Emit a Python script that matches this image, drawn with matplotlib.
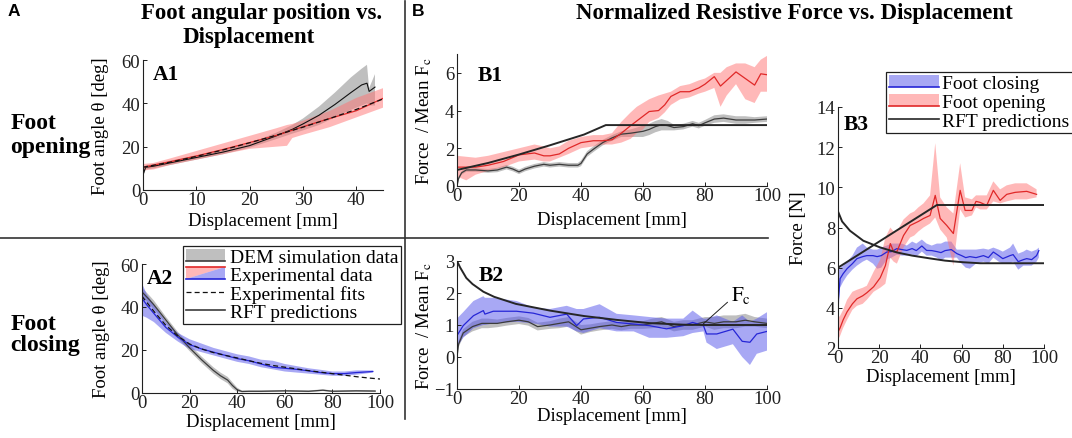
import numpy as np
import matplotlib
matplotlib.use('Agg')
import matplotlib.pyplot as plt
from matplotlib.patches import Rectangle, Polygon
from matplotlib.lines import Line2D
from matplotlib.legend_handler import HandlerBase

plt.rcParams['font.family'] = ['Liberation Serif', 'DejaVu Serif']
plt.rcParams['mathtext.fontset'] = 'stix'

# ---------------- DATA ----------------
# A1: foot opening angle
a1_exp_x = [0, 2, 5, 10, 15, 20, 25, 27, 28, 30, 35, 40, 45]
a1_exp_mean = [10.5, 11.5, 13.0, 15.7, 18.7, 21.9, 25.2, 26.8, 27.6, 29.2, 33.0, 36.6, 42.3]
a1_exp_lo = [9.0, 9.5, 11.5, 14.0, 16.5, 19.0, 20.0, 20.4, 24.0, 25.5, 29.0, 33.5, 38.0]
a1_exp_hi = [12.0, 12.5, 14.5, 18.0, 21.5, 25.0, 28.5, 30.0, 30.5, 32.0, 36.5, 42.5, 47.0]
a1_fit_x = [0, 5, 10, 15, 20, 25, 30, 35, 40, 45]
a1_fit_y = [10.5, 12.8, 15.5, 18.5, 21.8, 25.3, 29.0, 33.0, 37.2, 42.0]
a1_dem_x = [0, 0.5, 2, 5, 10, 15, 20, 25, 28, 30, 33, 36, 39, 41, 42, 42.4, 43.5]
a1_dem_mean = [7, 10.5, 11, 12.5, 15, 17.5, 20.5, 25, 28, 30.5, 34.5, 39.5, 45, 48.5, 49.3, 45.5, 47.5]
a1_dem_lo = [6, 9.5, 10, 11.5, 14, 16.5, 19.5, 23.5, 26, 27.5, 30, 33.5, 37, 39, 40, 39, 39]
a1_dem_hi = [8, 11.5, 12, 13.5, 16, 18.5, 21.5, 26.5, 30, 33, 38.5, 45, 52, 56, 57.8, 47, 53.5]

# A2: foot closing angle
a2_exp_x = [0, 2, 5, 10, 15, 20, 25, 30, 35, 40, 45, 50, 55, 60, 65, 70, 75, 80, 85, 90, 97]
a2_exp_mean = [44, 41, 37, 30.5, 26, 22.5, 20.5, 19, 17.5, 16, 15, 13.5, 12, 11.5, 11, 10.3, 9.5, 9, 9, 9.5, 10]
a2_exp_lo = [36, 35, 33, 28, 24, 20.5, 19, 17.5, 16, 14.5, 13.5, 12, 11, 10, 9.5, 9, 8.5, 8, 8, 8.5, 9.5]
a2_exp_hi = [51, 46, 41, 33, 28, 25, 23, 21, 19.5, 18, 17, 15.5, 15, 13.5, 12.5, 11.5, 10.8, 10, 10, 10.5, 10.5]
a2_fit_x = [0, 5, 10, 15, 20, 25, 30, 35, 40, 45, 50, 55, 60, 65, 70, 75, 80, 85, 90, 95, 100]
a2_fit_y = [45, 38, 31.5, 26.5, 22.8, 20.5, 18.8, 17.5, 16.3, 15, 13.8, 12.8, 12, 11.2, 10.4, 9.7, 9, 8.3, 7.6, 7, 6.5]
a2_dem_x = [0, 3, 5, 10, 15, 20, 25, 30, 33, 36, 38, 40, 42, 45, 50, 60, 70, 76, 80, 90, 98]
a2_dem_mean = [47, 43.5, 41, 34, 27, 21, 15.5, 10.5, 8, 6, 3.5, 1.5, 0.7, 0.8, 0.8, 1.0, 0.8, 1.3, 0.8, 1.0, 0.9]
a2_dem_lo = [45, 41.5, 39, 32.5, 25.5, 19.5, 14, 9, 6.5, 4.5, 2, 0.5, 0.3, 0.4, 0.4, 0.6, 0.4, 0.9, 0.4, 0.6, 0.5]
a2_dem_hi = [49, 45.5, 43, 35.5, 28.5, 22.5, 17, 12, 9.5, 7.5, 5, 2.5, 1.1, 1.2, 1.2, 1.4, 1.2, 1.7, 1.2, 1.4, 1.3]

# B1: normalized force, foot opening
b1_exp_x = [0, 3, 6, 10, 15, 20, 25, 28, 30, 33, 36, 40, 44, 47, 50, 53, 56, 58, 60, 62, 65, 67, 69, 72,
            75, 78, 80, 83, 85, 87, 90, 93, 96, 98, 100]
b1_exp_mean = [1.0, 1.0, 1.0, 1.1, 1.3, 1.65, 1.75, 1.6, 1.6, 1.7, 2.0, 2.3, 2.4, 2.4, 2.45, 2.8, 3.2, 3.45,
               3.7, 3.95, 4.0, 4.3, 4.75, 5.0, 5.0, 5.2, 5.4, 5.8, 5.3, 5.6, 6.05, 5.7, 5.35, 5.95, 5.9]
b1_exp_lo = [0.5, 0.3, 0.6, 0.8, 1.0, 1.3, 1.4, 1.3, 1.3, 1.5, 1.7, 2.0, 2.1, 2.2, 2.2, 2.3, 2.5, 2.8,
             3.0, 3.4, 3.6, 3.9, 4.3, 4.6, 4.7, 4.9, 5.0, 5.2, 4.2, 4.8, 5.4, 4.6, 4.4, 5.0, 5.0]
b1_exp_hi = [1.6, 1.55, 1.5, 1.6, 1.8, 2.0, 2.2, 2.1, 2.0, 2.1, 2.4, 2.6, 2.7, 2.7, 2.8, 3.4, 3.9, 4.2,
             4.4, 4.6, 4.8, 4.9, 5.0, 5.3, 5.4, 5.6, 5.7, 6.0, 6.0, 6.3, 6.5, 6.5, 6.3, 6.7, 6.9]
b1_dem_x = [0, 0.5, 1.5, 3, 6, 10, 13, 16, 18, 20, 22, 25, 28, 30, 33, 36, 39, 40, 42, 44, 47, 50, 53, 56,
            60, 62, 64, 66, 68, 70, 73, 76, 78, 80, 83, 86, 90, 93, 96, 100]
b1_dem_mean = [0, 0.4, 0.7, 0.85, 0.85, 0.8, 0.85, 1.0, 0.9, 0.75, 0.9, 1.05, 1.15, 1.1, 1.15, 1.1, 1.1,
               1.2, 1.7, 1.95, 2.3, 2.55, 2.75, 2.8, 2.9, 3.0, 3.15, 3.25, 3.2, 3.1, 3.15, 3.3, 3.2, 3.35,
               3.55, 3.6, 3.5, 3.5, 3.5, 3.55]
b1_dem_err = [0.05, 0.1, 0.1, 0.1, 0.1, 0.1, 0.12, 0.12, 0.12, 0.12, 0.12, 0.12, 0.12, 0.12, 0.12, 0.12,
              0.12, 0.15, 0.15, 0.15, 0.15, 0.15, 0.15, 0.2, 0.3, 0.3, 0.3, 0.3, 0.25, 0.15, 0.15, 0.15,
              0.15, 0.15, 0.2, 0.2, 0.2, 0.2, 0.15, 0.15]
b1_rft_x = [0, 10, 20, 30, 41, 48, 100]
b1_rft_y = [0.85, 1.22, 1.67, 2.16, 2.73, 3.23, 3.23]

# B2: normalized force, foot closing
b2_exp_x = [0, 2, 5.3, 8.5, 9, 11.7, 19.2, 24.6, 30, 35.4, 38.6, 40.8, 46, 51.5, 57, 62, 67.6, 73, 76,
            79.5, 80.5, 83.8, 89, 92, 94.5, 96.7, 100]
b2_exp_mean = [0.67, 0.98, 1.29, 1.45, 1.34, 1.43, 1.43, 1.37, 1.24, 1.34, 0.98, 1.19, 1.24, 1.08, 1.03,
               0.98, 0.88, 0.98, 1.08, 0.98, 0.72, 0.72, 0.87, 0.49, 0.46, 0.72, 0.8]
b2_exp_lo = [0.3, 0.6, 0.9, 1.0, 1.0, 1.05, 1.1, 1.05, 0.95, 0.95, 0.8, 0.75, 0.9, 0.8, 0.8, 0.6, 0.6,
             0.65, 0.75, 0.8, 0.45, 0.25, 0.4, 0.0, -0.25, 0.1, 0.2]
b2_exp_hi = [1.2, 1.4, 1.75, 1.9, 1.85, 1.85, 1.75, 1.55, 1.5, 1.6, 1.5, 1.5, 1.65, 1.35, 1.3, 1.25,
             1.2, 1.2, 1.45, 1.2, 1.2, 1.3, 1.1, 1.3, 1.1, 1.2, 1.4]
b2_dem_x = [0, 0.5, 2, 5, 8, 10, 13, 16, 20, 23, 26, 30, 33, 36, 40, 43, 46, 50, 53, 56, 60, 63, 66, 70,
            73, 76, 80, 83, 86, 90, 93, 96, 100]
b2_dem_mean = [0, 0.4, 0.75, 0.95, 1.05, 1.05, 1.05, 1.1, 1.15, 1.1, 0.95, 1.0, 1.05, 1.1, 0.85, 0.9,
               0.95, 1.0, 0.95, 1.0, 1.0, 1.05, 1.1, 0.95, 1.0, 1.0, 1.1, 1.05, 1.1, 1.1, 1.15, 1.1, 1.05]
b2_dem_err = [0.05, 0.1, 0.12, 0.15, 0.15, 0.15, 0.12, 0.12, 0.12, 0.12, 0.12, 0.12, 0.15, 0.15, 0.15,
              0.12, 0.12, 0.12, 0.12, 0.12, 0.12, 0.15, 0.15, 0.15, 0.15, 0.15, 0.15, 0.2, 0.2, 0.2,
              0.2, 0.15, 0.15]
b2_rft_x = [0, 1, 3, 5, 8.5, 12, 19, 30, 41, 51.5, 62, 73, 80, 100]
b2_rft_y = [3.0, 2.8, 2.47, 2.28, 2.04, 1.88, 1.66, 1.45, 1.28, 1.16, 1.06, 1.01, 1.0, 1.0]

# B3: force in N
b3_open_x = [0, 1, 2.5, 4.4, 7, 9.2, 12, 14, 17.3, 20.5, 23, 25.4, 27, 28.6, 31.8, 35, 37, 39, 41.5, 44.7,
             47.2, 49.6, 52.8, 56, 59.3, 61.7, 65, 67, 69, 72.2, 75.4, 78.7, 81.9, 86, 91.6, 96.4]
b3_open_mean = [2.8, 3.0, 3.4, 3.8, 4.2, 4.45, 4.6, 4.75, 5.05, 5.5, 6.1, 7.2, 6.8, 6.8, 7.6, 8.1, 8.2,
                8.3, 8.45, 8.6, 9.6, 8.45, 8.1, 7.7, 9.85, 8.85, 8.85, 9.3, 9.25, 9.1, 9.85, 9.35, 9.65,
                9.75, 9.8, 9.65]
b3_open_lo = [2.4, 2.6, 3.0, 3.4, 3.9, 4.1, 4.2, 4.4, 4.8, 5.0, 5.2, 6.5, 6.3, 6.2, 7.0, 7.5, 7.6, 7.8,
              8.0, 8.2, 8.5, 7.9, 7.5, 6.1, 8.9, 8.5, 8.6, 9.0, 8.9, 8.9, 9.3, 9.2, 9.3, 9.4, 9.4, 9.5]
b3_open_hi = [3.5, 3.6, 3.9, 4.4, 4.8, 4.9, 5.0, 5.1, 5.8, 6.4, 7.5, 8.0, 7.8, 7.8, 8.4, 8.7, 8.8, 9.0,
              9.2, 9.6, 12.2, 9.5, 9.0, 8.7, 11.2, 9.5, 9.4, 9.6, 9.6, 9.6, 10.3, 9.9, 10.1, 10.2, 10.2, 9.9]
b3_close_x = [0, 0.5, 1, 2.5, 4.4, 7, 9.2, 12, 14, 17, 19, 21, 23.7, 26, 28.6, 31, 33.4, 36, 38, 40.7, 43,
              45.5, 48, 50, 52, 55, 57.7, 60, 62, 64, 67, 70.6, 73, 75.4, 78, 80, 83.5, 85, 87.5, 90,
              91.6, 94, 96.4, 97.5]
b3_close_mean = [4.2, 4.8, 5.45, 5.7, 5.95, 6.2, 6.45, 6.55, 6.6, 6.6, 6.55, 6.6, 6.78, 6.8, 6.95, 6.9,
                 6.86, 6.95, 6.85, 7.08, 6.86, 6.85, 6.8, 6.75, 6.85, 6.9, 6.7, 6.6, 6.5, 6.55, 6.5, 6.6,
                 6.5, 6.78, 6.6, 6.45, 6.6, 6.65, 6.3, 6.4, 6.45, 6.4, 6.6, 6.85]
b3_close_lo = [3.9, 4.2, 5.0, 5.3, 5.6, 5.9, 6.1, 6.3, 6.4, 6.2, 5.95, 6.0, 6.4, 6.5, 6.65, 6.6, 6.6,
               6.65, 6.55, 6.8, 6.6, 6.6, 6.5, 6.35, 6.5, 6.5, 6.5, 6.2, 6.0, 5.95, 6.2, 6.3, 6.2, 6.5,
               6.3, 6.2, 6.2, 6.3, 5.9, 6.1, 6.1, 6.1, 6.3, 6.5]
b3_close_hi = [5.8, 5.9, 6.0, 6.1, 6.3, 6.6, 7.0, 7.2, 7.0, 6.9, 6.9, 7.0, 7.1, 7.2, 7.2, 7.2, 7.1, 7.3,
               7.2, 7.4, 7.2, 7.1, 7.2, 7.2, 7.3, 7.3, 6.9, 6.9, 6.9, 6.9, 6.9, 6.95, 6.9, 7.0, 6.9, 6.8,
               7.0, 7.2, 6.7, 6.8, 6.9, 6.8, 6.9, 7.0]
b3_rft_open_x = [0, 48, 100]
b3_rft_open_y = [6.0, 9.12, 9.12]
b3_rft_close_x = [0, 2, 5.8, 12.3, 20.4, 28.5, 36, 44.7, 52, 60.8, 69, 100]
b3_rft_close_y = [8.8, 8.3, 7.84, 7.34, 7.01, 6.76, 6.6, 6.46, 6.35, 6.27, 6.22, 6.22]

legend_a_labels = ['DEM simulation data', 'Experimental data', 'Experimental fits', 'RFT predictions']
legend_b_labels = ['Foot closing', 'Foot opening', 'RFT predictions']

# ---------------- STYLE ----------------
RED_F = (1.0, 0.45, 0.45)
RED_L = '#E02828'
BLUE_F = (0.32, 0.32, 0.92)
BLUE_L = '#2626D6'
GREY_F = (0.5, 0.5, 0.5)
DEM_L = '#3c3c3c'
RFT_L = '#262626'
ALPHA = 0.5
TICK_FS = 13.5
LAB_FS = 13.5
LEG_FS = 14

W, H = 1072, 439
fig = plt.figure(figsize=(W / 100, H / 100), dpi=100)


def axbox(l, t, r, b):
    return [l / W, 1 - b / H, (r - l) / W, (b - t) / H]


def style(ax):
    for s in ['top', 'right']:
        ax.spines[s].set_visible(False)
    for s in ['left', 'bottom']:
        ax.spines[s].set_linewidth(0.8)
        ax.spines[s].set_color('#202020')
    ax.tick_params(direction='in', length=3, width=0.7, labelsize=TICK_FS, colors='#202020')
    ax.tick_params(axis='x', pad=1)
    ax.tick_params(axis='y', pad=2)
    ax.patch.set_visible(False)


def band(ax, x, lo, hi, face):
    ax.fill_between(x, lo, hi, facecolor=face, alpha=ALPHA, edgecolor='none', lw=0)


axA1 = fig.add_axes(axbox(143, 61, 383, 191))
axA2 = fig.add_axes(axbox(142, 265, 380, 394))
axB1 = fig.add_axes(axbox(457, 55, 767, 187))
axB2 = fig.add_axes(axbox(457, 262, 767, 390))
axB3 = fig.add_axes(axbox(838, 108, 1044, 349))

# A1
band(axA1, a1_dem_x, a1_dem_lo, a1_dem_hi, GREY_F)
band(axA1, a1_exp_x, a1_exp_lo, a1_exp_hi, RED_F)
axA1.plot(a1_dem_x, a1_dem_mean, color='#111111', lw=0.8)
axA1.plot(a1_exp_x, a1_exp_mean, color=RED_L, lw=0.9)
axA1.plot(a1_fit_x, a1_fit_y, color='#111111', lw=0.9, ls=(0, (4, 2.5)))
axA1.set_xlim(0, 45)
axA1.set_ylim(0, 60)
axA1.set_xticks([0, 10, 20, 30, 40])
axA1.set_yticks([0, 20, 40, 60])

# A2
band(axA2, a2_dem_x, a2_dem_lo, a2_dem_hi, GREY_F)
band(axA2, a2_exp_x, a2_exp_lo, a2_exp_hi, BLUE_F)
axA2.plot(a2_dem_x, a2_dem_mean, color=DEM_L, lw=0.9)
axA2.plot(a2_exp_x, a2_exp_mean, color=BLUE_L, lw=0.9)
axA2.plot(a2_fit_x, a2_fit_y, color='#111111', lw=0.9, ls=(0, (4, 2.5)))
axA2.set_xlim(0, 100)
axA2.set_ylim(0, 60)
axA2.set_xticks([0, 20, 40, 60, 80, 100])
axA2.set_yticks([0, 20, 40, 60])

# B1
b1x = np.array(b1_dem_x)
b1m = np.array(b1_dem_mean)
b1e = np.array(b1_dem_err)
band(axB1, b1x, b1m - b1e, b1m + b1e, GREY_F)
band(axB1, b1_exp_x, b1_exp_lo, b1_exp_hi, RED_F)
axB1.plot(b1_dem_x, b1_dem_mean, color=DEM_L, lw=0.9)
axB1.plot(b1_exp_x, b1_exp_mean, color=RED_L, lw=0.9)
axB1.plot(b1_rft_x, b1_rft_y, color=RFT_L, lw=1.4)
axB1.set_xlim(0, 100)
axB1.set_ylim(0, 7)
axB1.set_yticks([0, 2, 4, 6])
axB1.set_xticks([0, 20, 40, 60, 80, 100])

# B2
b2x = np.array(b2_dem_x)
b2m = np.array(b2_dem_mean)
b2e = np.array(b2_dem_err)
band(axB2, b2x, b2m - b2e, b2m + b2e, GREY_F)
band(axB2, b2_exp_x, b2_exp_lo, b2_exp_hi, BLUE_F)
axB2.plot(b2_dem_x, b2_dem_mean, color=DEM_L, lw=0.9)
axB2.plot(b2_exp_x, b2_exp_mean, color=BLUE_L, lw=0.9)
axB2.plot(b2_rft_x, b2_rft_y, color=RFT_L, lw=1.4)
axB2.set_xlim(0, 100)
axB2.set_ylim(-1, 3)
axB2.set_yticks([-1, 0, 1, 2, 3])
axB2.set_xticks([0, 20, 40, 60, 80, 100])
axB2.annotate(r'$\mathrm{F_c}$', xy=(79.4, 1.03), xytext=(88.5, 1.95), fontsize=15,
              ha='left', va='center',
              arrowprops=dict(arrowstyle='-', lw=0.7, color='#202020', relpos=(0, 0.3),
                              shrinkA=1, shrinkB=0))

# B3
band(axB3, b3_close_x, b3_close_lo, b3_close_hi, BLUE_F)
band(axB3, b3_open_x, b3_open_lo, b3_open_hi, RED_F)
axB3.plot(b3_close_x, b3_close_mean, color=BLUE_L, lw=0.9)
axB3.plot(b3_open_x, b3_open_mean, color=RED_L, lw=0.9)
axB3.plot(b3_rft_open_x, b3_rft_open_y, color=RFT_L, lw=1.4)
axB3.plot(b3_rft_close_x, b3_rft_close_y, color=RFT_L, lw=1.4)
axB3.set_xlim(0, 100)
axB3.set_ylim(2, 14)
axB3.set_yticks([2, 4, 6, 8, 10, 12, 14])
axB3.set_xticks([0, 20, 40, 60, 80, 100])

for ax in [axA1, axA2, axB1, axB2, axB3]:
    style(ax)
    ax.set_xlabel('Displacement [mm]', fontsize=LAB_FS)

axA1.set_ylabel('Foot angle θ [deg]', fontsize=LAB_FS)
axA2.set_ylabel('Foot angle θ [deg]', fontsize=LAB_FS)
axB1.set_ylabel(r'Force  / Mean F$_\mathrm{c}$', fontsize=LAB_FS)
axB2.set_ylabel(r'Force  / Mean F$_\mathrm{c}$', fontsize=LAB_FS)
axB3.set_ylabel('Force [N]', fontsize=LAB_FS)

axA1.yaxis.set_label_coords(-0.14, 0.5)
axA2.yaxis.set_label_coords(-0.135, 0.5)
axB1.yaxis.set_label_coords(-0.075, 0.5)
axB2.yaxis.set_label_coords(-0.075, 0.5)
axB3.yaxis.set_label_coords(-0.15, 0.5)
axA1.xaxis.set_label_coords(0.5, -0.17)
axA2.xaxis.set_label_coords(0.5, -0.155)
axB1.xaxis.set_label_coords(0.5, -0.19)
axB2.xaxis.set_label_coords(0.5, -0.14)
axB3.xaxis.set_label_coords(0.5, -0.085)

# panel tags inside axes
tag_kw = dict(fontsize=15.5, fontweight='bold', ha='left', va='center')
fig.text(153 / W, 1 - 75 / H, 'A1', **tag_kw)
fig.text(147 / W, 1 - 279 / H, 'A2', **tag_kw)
fig.text(478 / W, 1 - 76 / H, 'B1', **tag_kw)
fig.text(479 / W, 1 - 276 / H, 'B2', **tag_kw)
fig.text(844 / W, 1 - 125 / H, 'B3', **tag_kw)

# titles and row labels
fig.text(8 / W, 1 - 12 / H, 'A', fontsize=12.5, fontweight='bold', family='Liberation Sans',
         ha='left', va='center')
fig.text(412 / W, 1 - 12 / H, 'B', fontsize=12.5, fontweight='bold', family='Liberation Sans',
         ha='left', va='center')
tkw = dict(fontsize=16.5, fontweight='bold', ha='center', va='center')
fig.text(262 / W, 1 - 14 / H, 'Foot angular position vs.', **tkw)
fig.text(249 / W, 1 - 38 / H, 'Displacement', **tkw)
fig.text(794 / W, 1 - 14 / H, 'Normalized Resistive Force vs. Displacement', **tkw)
rkw = dict(fontsize=17, fontweight='bold', ha='left', va='center')
fig.text(11 / W, 1 - 124 / H, 'Foot', **rkw)
fig.text(10 / W, 1 - 147 / H, 'opening', **rkw)
fig.text(11 / W, 1 - 324 / H, 'Foot', **rkw)
fig.text(10 / W, 1 - 346 / H, 'closing', **rkw)

# separators
fig.add_artist(Line2D([405 / W, 405 / W], [1 - 2 / H, 1 - 420 / H], transform=fig.transFigure,
                      color='#333333', lw=1.2))
fig.add_artist(Line2D([0, 768 / W], [1 - 239 / H, 1 - 239 / H], transform=fig.transFigure,
                      color='#333333', lw=1.2))


# legends
class BandHandler(HandlerBase):
    def __init__(self, face, line, face2=None, line2=None):
        super().__init__()
        self.face, self.line, self.face2, self.line2 = face, line, face2, line2

    def create_artists(self, legend, orig_handle, xdescent, ydescent, width, height, fontsize, trans):
        x0, y0 = -xdescent, -ydescent
        arts = []
        if self.face2 is None:
            arts.append(Rectangle((x0, y0), width, height, facecolor=self.face, alpha=ALPHA,
                                  edgecolor='none', transform=trans))
            arts.append(Line2D([x0, x0 + width], [y0, y0], color=self.line, lw=1.2, transform=trans))
        else:
            arts.append(Polygon([[x0, y0], [x0, y0 + height], [x0 + width, y0 + height]], closed=True,
                                facecolor=self.face, alpha=ALPHA, edgecolor='none', transform=trans))
            arts.append(Polygon([[x0, y0], [x0 + width, y0], [x0 + width, y0 + height]], closed=True,
                                facecolor=self.face2, alpha=ALPHA, edgecolor='none', transform=trans))
            arts.append(Line2D([x0, x0 + width], [y0 + height] * 2, color=self.line, lw=1.2,
                               transform=trans))
            arts.append(Line2D([x0, x0 + width], [y0] * 2, color=self.line2, lw=1.2, transform=trans))
        return arts


hA_dem = Rectangle((0, 0), 1, 1)
hA_exp = Rectangle((0, 0), 1, 1)
hA_fit = Line2D([], [], color='#111111', lw=0.9, ls=(0, (4, 2.5)))
hA_rft = Line2D([], [], color=DEM_L, lw=1.2)
legA = axA2.legend([hA_dem, hA_exp, hA_fit, hA_rft], legend_a_labels,
                   handler_map={hA_dem: BandHandler(GREY_F, DEM_L),
                                hA_exp: BandHandler(RED_F, RED_L, BLUE_F, BLUE_L)},
                   loc='upper left', bbox_to_anchor=(183 / W, 1 - 247 / H), bbox_transform=fig.transFigure,
                   borderaxespad=0, fontsize=LEG_FS, handlelength=2.0, handleheight=0.6,
                   handletextpad=0.25, labelspacing=0.05, borderpad=0.15, fancybox=False,
                   edgecolor='#202020', framealpha=1)
legA.get_frame().set_linewidth(0.9)

hB_close = Rectangle((0, 0), 1, 1)
hB_open = Rectangle((0, 0), 1, 1)
hB_rft = Line2D([], [], color=RFT_L, lw=1.2)
legB = axB3.legend([hB_close, hB_open, hB_rft], legend_b_labels,
                   handler_map={hB_close: BandHandler(BLUE_F, BLUE_L),
                                hB_open: BandHandler(RED_F, RED_L)},
                   loc='upper left', bbox_to_anchor=(886 / W, 1 - 73 / H), bbox_transform=fig.transFigure,
                   borderaxespad=0, fontsize=LEG_FS, handlelength=2.6, handleheight=0.6,
                   handletextpad=0.15, labelspacing=0.1, borderpad=0.15, fancybox=False,
                   edgecolor='#202020', framealpha=1)
legB.get_frame().set_linewidth(0.9)

fig.savefig('out.png', dpi=100)
